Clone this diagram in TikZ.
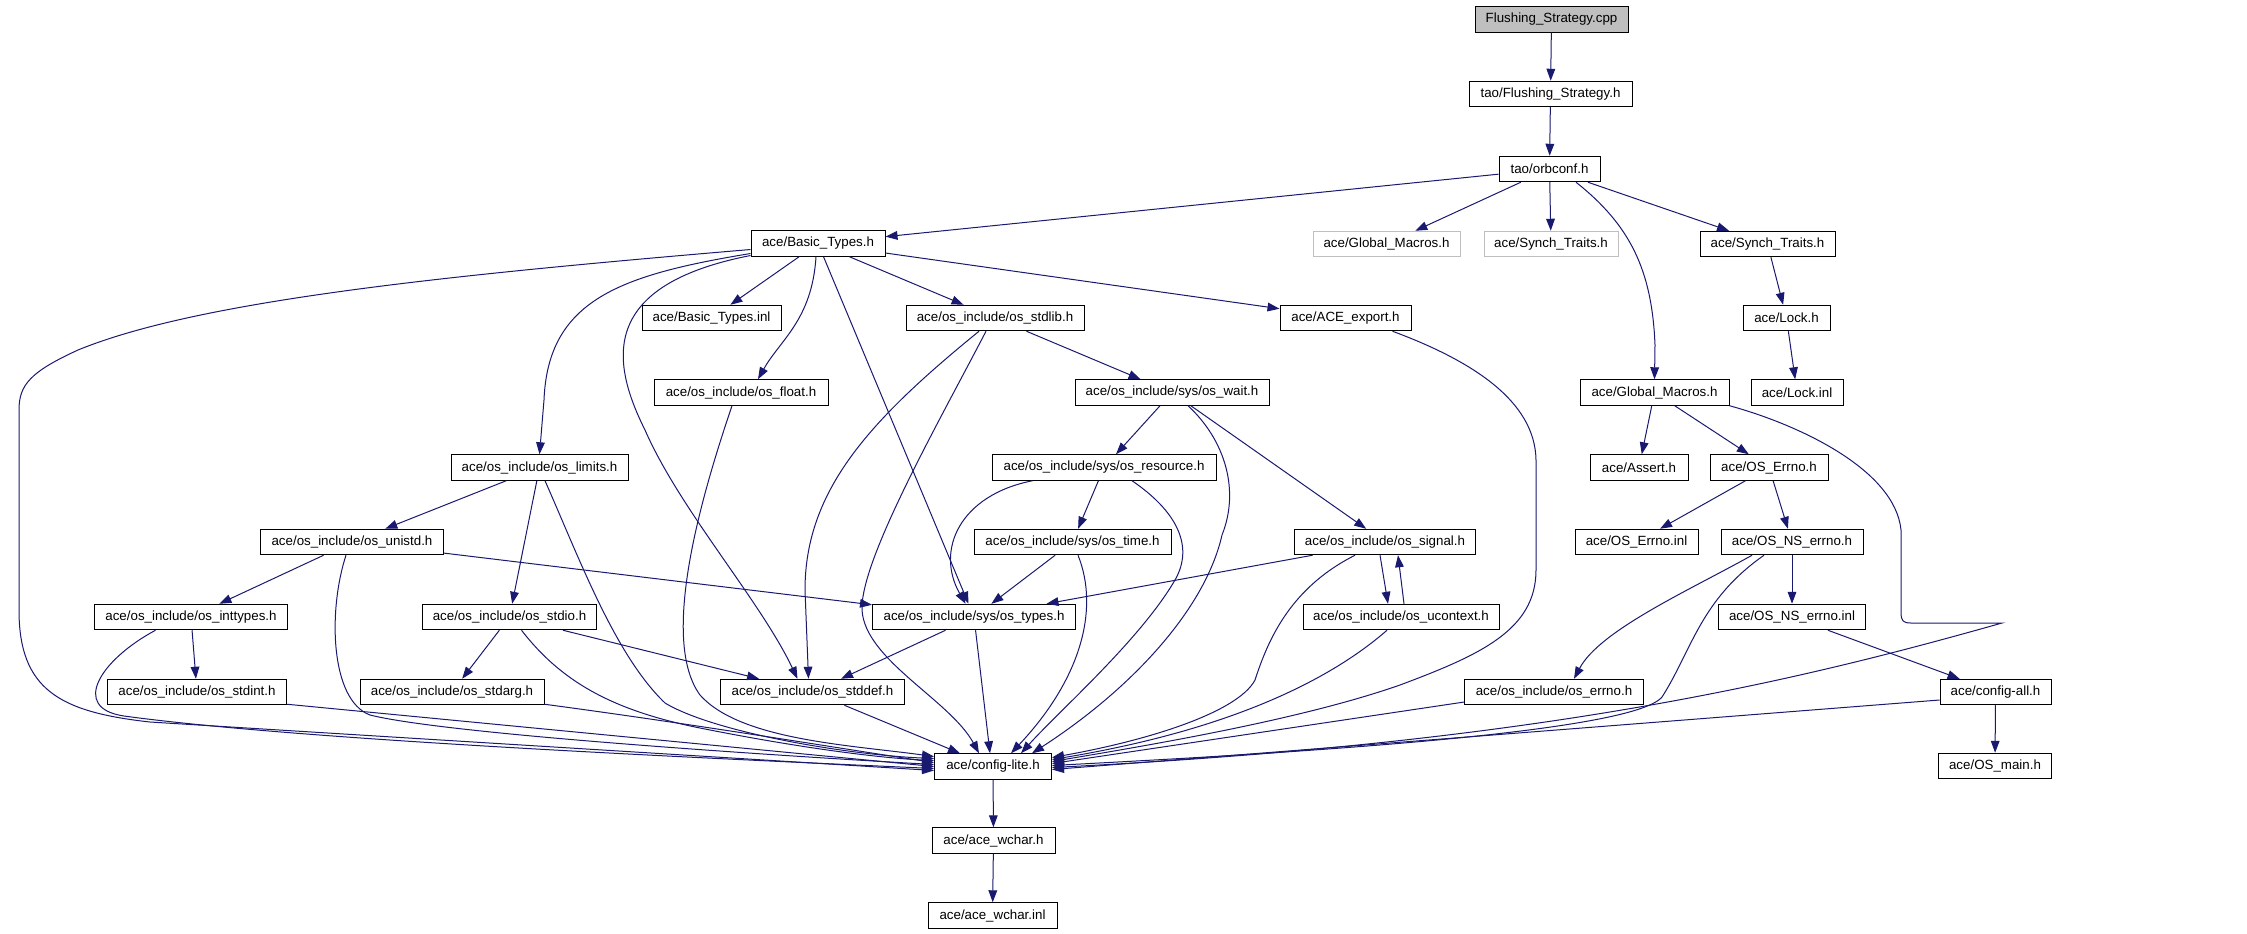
\documentclass[tikz,border=0pt]{standalone}
\usepackage{fontspec}
\setmainfont{Liberation Sans}
\usetikzlibrary{arrows.meta,calc}
\definecolor{edgec}{RGB}{25,25,112}
\definecolor{grayb}{RGB}{191,191,191}
\newcommand{\mkbox}[6][]{\node[nbox,#1,minimum width=#5*0.75pt] (#2) at (#3,#4) {#6};}
\begin{document}
\begin{tikzpicture}[x=0.75pt,y=-0.75pt,
  nbox/.style={draw=black, line width=0.75pt, minimum height=19.1pt, inner sep=0pt, font=\fontsize{10}{12}\selectfont},
  gbox/.style={draw=grayb},
  lnk/.style={draw=edgec, line width=0.75pt, -{Triangle[length=9pt,width=6.5pt]}}]
\useasboundingbox (0,0) rectangle (2247,933);
% nodes
\mkbox[fill=grayb]{fscpp}{1551.5}{19.5}{153}{Flushing\_Strategy.cpp}
\mkbox{fsh}{1550.5}{94}{163}{tao/Flushing\_Strategy.h}
\mkbox{orbconf}{1549.5}{169}{101}{tao/orbconf.h}
\mkbox{bt}{818}{243.5}{134}{ace/Basic\_Types.h}
\mkbox[gbox]{gmg}{1386.5}{244}{147}{ace/Global\_Macros.h}
\mkbox[gbox]{stg}{1551}{244}{134}{ace/Synch\_Traits.h}
\mkbox{st}{1767.5}{244}{135}{ace/Synch\_Traits.h}
\mkbox{bti}{711.5}{318}{139}{ace/Basic\_Types.inl}
\mkbox{stdlib}{995}{318}{178}{ace/os\_include/os\_stdlib.h}
\mkbox{acex}{1345.5}{318}{131}{ace/ACE\_export.h}
\mkbox{lock}{1786.5}{318}{87}{ace/Lock.h}
\mkbox{float}{741}{392.5}{174}{ace/os\_include/os\_float.h}
\mkbox{wait}{1172}{392.5}{194}{ace/os\_include/sys/os\_wait.h}
\mkbox{gm}{1654.5}{392.5}{149}{ace/Global\_Macros.h}
\mkbox{lockinl}{1797}{392.5}{92}{ace/Lock.inl}
\mkbox{limits}{539.5}{467.5}{177}{ace/os\_include/os\_limits.h}
\mkbox{resource}{1104}{467.5}{224}{ace/os\_include/sys/os\_resource.h}
\mkbox{assert}{1639}{467.5}{98}{ace/Assert.h}
\mkbox{oserrno}{1769}{467.5}{118}{ace/OS\_Errno.h}
\mkbox{unistd}{352}{542}{183}{ace/os\_include/os\_unistd.h}
\mkbox{time}{1072.5}{542}{197}{ace/os\_include/sys/os\_time.h}
\mkbox{signal}{1385}{542}{181}{ace/os\_include/os\_signal.h}
\mkbox{oserrnoinl}{1636.5}{542}{123}{ace/OS\_Errno.inl}
\mkbox{osnserrno}{1792}{542}{142}{ace/OS\_NS\_errno.h}
\mkbox{inttypes}{191}{617}{193}{ace/os\_include/os\_inttypes.h}
\mkbox{stdio}{509.5}{617}{174}{ace/os\_include/os\_stdio.h}
\mkbox{types}{974}{617}{203}{ace/os\_include/sys/os\_types.h}
\mkbox{ucontext}{1401}{617}{196}{ace/os\_include/os\_ucontext.h}
\mkbox{osnserrnoinl}{1792}{617}{147}{ace/OS\_NS\_errno.inl}
\mkbox{stdint}{197}{692}{179}{ace/os\_include/os\_stdint.h}
\mkbox{stdarg}{452}{692}{184}{ace/os\_include/os\_stdarg.h}
\mkbox{stddef}{812.5}{692}{184}{ace/os\_include/os\_stddef.h}
\mkbox{errnoh}{1554}{692}{178.5}{ace/os\_include/os\_errno.h}
\mkbox{configall}{1995.5}{692}{111}{ace/config-all.h}
\mkbox{cl}{993}{766.5}{117}{ace/config-lite.h}
\mkbox{osmain}{1995}{766}{113.5}{ace/OS\_main.h}
\mkbox{wchar}{993.5}{840.5}{123}{ace/ace\_wchar.h}
\mkbox{wcharinl}{992.5}{915.5}{129}{ace/ace\_wchar.inl}
% edges
\draw[lnk] (fscpp) -- (fsh);
\draw[lnk] (fsh) -- (orbconf);
\draw[lnk] (orbconf) -- (bt);
\draw[lnk] (orbconf) -- (gmg);
\draw[lnk] (orbconf) -- (stg);
\draw[lnk] (orbconf) -- (st);
\draw[lnk] ($(orbconf.south)+(26.5,0)$) .. controls (1630,225) and (1652,270) .. (1655,345) -- (gm.north);
\draw[lnk] (st) -- (lock);
\draw[lnk] (lock) -- (lockinl);
\draw[lnk] (gm) -- (assert);
\draw[lnk] (gm) -- (oserrno);
\draw[lnk] (gm.south east) .. controls (1800,425) and (1895,470) .. (1901,530) -- (1901,612) .. controls (1901,621) and (1903,623) .. (1911,623) -- (2002,623) .. controls (1800,680) and (1550,742) .. ($(cl.east)+(0,1)$);
\draw[lnk] (oserrno) -- (oserrnoinl);
\draw[lnk] (oserrno) -- (osnserrno);
\draw[lnk] (osnserrno) -- (osnserrnoinl);
\draw[lnk] ($(osnserrno.south)+(-40,0)$) .. controls (1690,590) and (1600,630) .. ($(errnoh.north)+(20,0)$);
\draw[lnk] ($(osnserrno.south)+(-28,0)$) .. controls (1700,600) and (1692,650) .. (1662,697) .. controls (1630,735) and (1250,755) .. ($(cl.east)+(0,-1)$);
\draw[lnk] (osnserrnoinl) -- (configall);
\draw[lnk] ($(configall.west)+(0,8)$) -- ($(cl.east)+(0,3)$);
\draw[lnk] (configall) -- (osmain);
\draw[lnk] ($(errnoh.west)+(0,10)$) -- ($(cl.east)+(0,-3)$);
\draw[lnk] ($(signal.south)+(-5,0)$) -- ($(ucontext.north)+(-13,0)$);
\draw[lnk] ($(ucontext.north)+(3,0)$) -- ($(signal.south)+(13,0)$);
\draw[lnk] (signal) -- (types);
\draw[lnk] ($(signal.south)+(-30,0)$) .. controls (1290,588) and (1268,640) .. (1255,680) .. controls (1238,712) and (1150,740) .. ($(cl.east)+(0,-9)$);
\draw[lnk] ($(ucontext.south)+(-14,0)$) .. controls (1330,680) and (1230,730) .. ($(cl.east)+(0,-7)$);
\draw[lnk] ($(acex.south)+(47,0)$) .. controls (1470,360) and (1535,400) .. (1536,460) -- (1536,570) .. controls (1536,630) and (1480,655) .. (1400,685) .. controls (1300,720) and (1150,745) .. ($(cl.east)+(0,-5)$);
\draw[lnk] ($(wait.south)+(16,0)$) .. controls (1225,440) and (1240,490) .. (1222,535) .. controls (1205,610) and (1130,690) .. ($(cl.north)+(39,0)$);
\draw[lnk] (wait) -- (resource);
\draw[lnk] (wait) -- (signal);
\draw[lnk] (resource) -- (time);
\draw[lnk] ($(resource.south)+(-71.5,0)$) .. controls (960,495) and (935,550) .. ($(types.north)+(-8.5,0)$);
\draw[lnk] ($(resource.south)+(28,0)$) .. controls (1175,510) and (1195,545) .. (1175,580) .. controls (1140,640) and (1060,710) .. ($(cl.north)+(28,0)$);
\draw[lnk] (time) -- (types);
\draw[lnk] ($(time.south)+(5.5,0)$) .. controls (1100,610) and (1080,680) .. ($(cl.north)+(18,0)$);
\draw[lnk] (types) -- (stddef);
\draw[lnk] (types) -- ($(cl.north)+(-3,0)$);
\draw[lnk] (stddef) -- ($(cl.north)+(-33,0)$);
\draw[lnk] (stdlib) -- (wait);
\draw[lnk] ($(stdlib.south)+(-16,0)$) .. controls (870,420) and (805,490) .. (805,590) -- ($(stddef.north)+(-4,0)$);
\draw[lnk] ($(stdlib.south)+(-9,0)$) .. controls (940,420) and (860,560) .. (862,610) .. controls (865,660) and (950,700) .. ($(cl.north)+(-14,0)$);
\draw[lnk] ($(float.south)+(-9,0)$) .. controls (700,500) and (660,640) .. (700,695) .. controls (740,740) and (850,745) .. ($(cl.west)+(0,-10)$);
\draw[lnk] (bt) -- (bti);
\draw[lnk] ($(bt.south)+(-2,0)$) .. controls (812,320) and (780,340) .. ($(float.north)+(17,0)$);
\draw[lnk] (bt) -- (types);
\draw[lnk] (bt) -- (stdlib);
\draw[lnk] (bt) -- (acex);
\draw[lnk] ($(bt.west)+(0,10)$) .. controls (620,275) and (548,300) .. (544,400) -- (limits.north);
\draw[lnk] ($(bt.west)+(0,12)$) .. controls (600,285) and (610,360) .. (645,430) .. controls (680,510) and (760,600) .. ($(stddef.north)+(-15,0)$);
\draw[lnk] ($(bt.west)+(0,6)$) .. controls (450,275) and (200,300) .. (78,350) .. controls (30,372) and (19,385) .. (19,410) -- (19,610) .. controls (19,690) and (60,712) .. (150,722) -- ($(cl.west)+(0,4)$);
\draw[lnk] (limits) -- (unistd);
\draw[lnk] (limits) -- (stdio);
\draw[lnk] ($(limits.south)+(5.5,0)$) .. controls (580,560) and (615,655) .. (665,703) .. controls (715,733) and (850,755) .. ($(cl.west)+(0,-8)$);
\draw[lnk] (unistd) -- (inttypes);
\draw[lnk] (unistd) -- (types);
\draw[lnk] ($(unistd.south)+(-6,0)$) .. controls (328,610) and (330,700) .. (370,715) .. controls (450,735) and (800,757) .. ($(cl.west)+(0,-2)$);
\draw[lnk] (inttypes) -- (stdint);
\draw[lnk] ($(inttypes.south)+(-35.5,0)$) .. controls (100,660) and (70,708) .. (124,716) .. controls (300,740) and (700,758) .. ($(cl.west)+(0,2)$);
\draw[lnk] ($(stdint.south east)+(0,-1)$) -- (cl.west);
\draw[lnk] (stdio) -- (stdarg);
\draw[lnk] (stdio) -- (stddef);
\draw[lnk] ($(stdio.south)+(12,0)$) .. controls (560,680) and (610,710) .. (700,728) .. controls (800,748) and (880,758) .. ($(cl.west)+(0,-6)$);
\draw[lnk] ($(stdarg.south east)+(0,-1)$) .. controls (700,725) and (850,750) .. ($(cl.west)+(0,-4)$);
\draw[lnk] (cl) -- (wchar);
\draw[lnk] (wchar) -- (wcharinl);
\end{tikzpicture}
\end{document}
